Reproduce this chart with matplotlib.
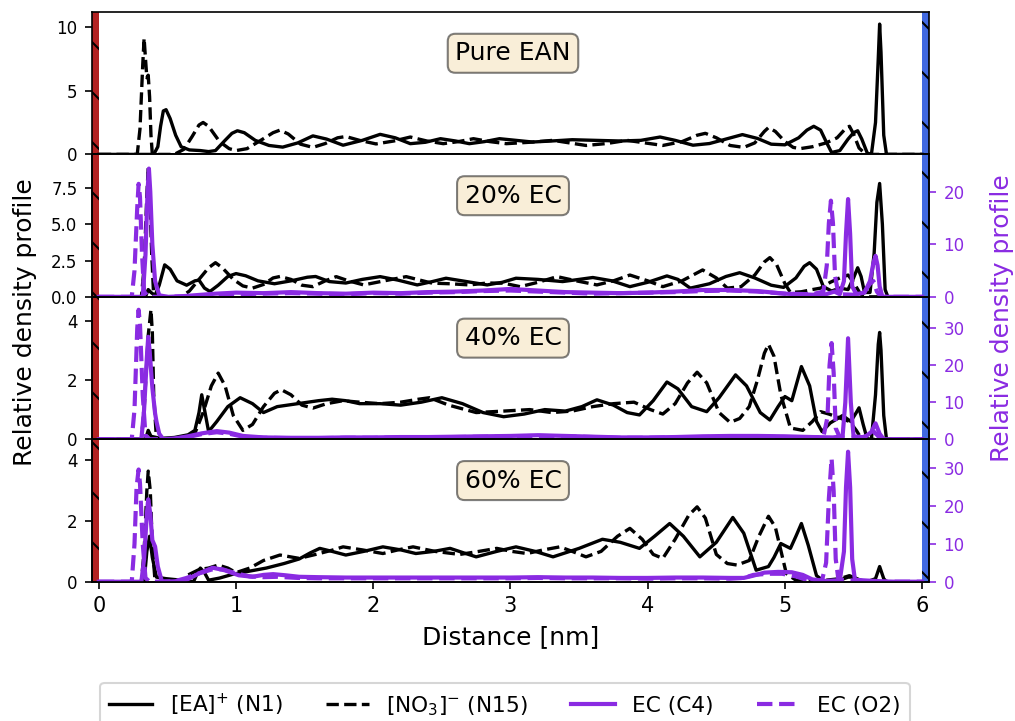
import numpy as np
import matplotlib
matplotlib.use("Agg")
import matplotlib.pyplot as plt

PURPLE = "#8a2be2"

panel_titles = ["Pure EAN", "20% EC", "40% EC", "60% EC"]
legend_labels = [r"[EA]$^{+}$ (N1)", r"[NO$_3$]$^{-}$ (N15)", "EC (C4)", "EC (O2)"]
x_ticks = [0, 1, 2, 3, 4, 5, 6]
left_ticks = [[0, 5, 10], [0.0, 2.5, 5.0, 7.5], [0, 2, 4], [0, 2, 4]]
right_ticks = [None, [0, 10, 20], [0, 10, 20, 30], [0, 10, 20, 30]]
left_ylim = [11.15, 9.8, 4.8, 4.7]
right_ylim = [None, 27.1, 38.5, 37.7]

# (distance nm, relative density)
ean_n1 = [(0, 0), (0.40, 0), (0.43, 0.6), (0.45, 2.2), (0.47, 3.4), (0.49, 3.5), (0.52, 2.8), (0.56, 1.5),
          (0.60, 0.6), (0.66, 0.35), (0.74, 0.3), (0.80, 0.22), (0.85, 0.3), (0.92, 1.1), (0.97, 1.65),
          (1.01, 1.85), (1.06, 1.7), (1.14, 1.1), (1.24, 0.7), (1.34, 0.57), (1.45, 0.9), (1.56, 1.45),
          (1.66, 1.2), (1.78, 0.72), (1.92, 1.1), (2.05, 1.57), (2.16, 1.3), (2.27, 0.84), (2.38, 0.95),
          (2.49, 1.23), (2.60, 1.05), (2.70, 0.84), (2.81, 1.0), (2.92, 1.23), (3.04, 1.1), (3.16, 0.97),
          (3.30, 1.05), (3.45, 1.15), (3.62, 1.1), (3.80, 1.05), (3.95, 1.1), (4.09, 1.36), (4.20, 1.1),
          (4.33, 0.72), (4.45, 0.85), (4.57, 1.2), (4.69, 1.55), (4.80, 1.25), (4.90, 0.8), (5.00, 0.75),
          (5.10, 1.3), (5.16, 1.9), (5.21, 2.2), (5.26, 1.9), (5.30, 1.0), (5.34, 0.15), (5.40, 0.3),
          (5.46, 1.2), (5.50, 1.7), (5.53, 1.85), (5.56, 1.2), (5.60, 0.1), (5.63, 0.0), (5.66, 2.5),
          (5.68, 7.5), (5.69, 10.2), (5.70, 8.0), (5.72, 1.5), (5.74, 0), (6.0, 0)]
ean_n15 = [(0, 0), (0.28, 0), (0.30, 2.0), (0.32, 7.0), (0.33, 9.1), (0.34, 7.5), (0.35, 6.0), (0.36, 6.2),
           (0.37, 4.5), (0.38, 1.5), (0.39, 0), (0.55, 0), (0.62, 0.4), (0.68, 1.4), (0.73, 2.3), (0.76, 2.5),
           (0.80, 2.2), (0.88, 1.0), (0.95, 0.45), (1.00, 0.3), (1.08, 0.45), (1.18, 1.1), (1.27, 1.7),
           (1.32, 1.9), (1.38, 1.6), (1.47, 0.8), (1.56, 0.55), (1.65, 0.85), (1.74, 1.3), (1.80, 1.4),
           (1.90, 1.1), (2.02, 0.82), (2.15, 1.05), (2.27, 1.36), (2.39, 1.05), (2.51, 0.84), (2.62, 1.0),
           (2.73, 1.23), (2.85, 1.0), (2.97, 0.84), (3.14, 0.95), (3.31, 1.1), (3.43, 0.9), (3.55, 0.7),
           (3.70, 0.85), (3.85, 1.1), (3.98, 0.9), (4.11, 0.7), (4.25, 1.0), (4.36, 1.5), (4.42, 1.65),
           (4.50, 1.3), (4.60, 0.7), (4.70, 0.55), (4.78, 0.9), (4.85, 1.8), (4.88, 2.1), (4.93, 1.8),
           (5.00, 1.0), (5.06, 0.55), (5.11, 0.45), (5.20, 0.6), (5.30, 0.9), (5.38, 1.3), (5.44, 2.0),
           (5.47, 2.2), (5.50, 1.6), (5.54, 0.5), (5.58, 0.1), (5.62, 0), (6.0, 0)]

ec20_n1 = [(0, 0), (0.34, 0), (0.36, 0.5), (0.38, 0.3), (0.41, 0.1), (0.44, 0.8), (0.48, 2.2), (0.52, 1.9),
           (0.57, 1.1), (0.64, 0.8), (0.70, 1.1), (0.73, 1.15), (0.77, 0.6), (0.81, 0.37), (0.87, 0.8),
           (0.94, 1.4), (1.00, 1.6), (1.07, 1.45), (1.16, 1.1), (1.28, 0.9), (1.40, 1.1), (1.52, 1.35),
           (1.58, 1.4), (1.68, 1.05), (1.80, 0.95), (1.92, 1.2), (2.05, 1.39), (2.18, 1.15), (2.32, 0.82),
           (2.43, 1.05), (2.53, 1.28), (2.68, 1.05), (2.83, 0.82), (2.94, 1.0), (3.04, 1.28), (3.20, 1.2),
           (3.38, 1.05), (3.50, 1.2), (3.60, 1.33), (3.74, 1.1), (3.87, 0.7), (4.00, 1.0), (4.14, 1.44),
           (4.22, 1.2), (4.31, 0.6), (4.45, 0.9), (4.57, 1.4), (4.67, 1.66), (4.78, 1.3), (4.90, 0.8),
           (4.99, 0.65), (5.08, 1.3), (5.14, 2.1), (5.18, 2.35), (5.23, 1.9), (5.28, 0.7), (5.34, 0.4),
           (5.40, 0.6), (5.46, 0.5), (5.50, 1.3), (5.53, 2.0), (5.555, 1.4), (5.58, 0.3), (5.62, 0.3),
           (5.65, 3.0), (5.67, 6.5), (5.69, 7.8), (5.71, 5.0), (5.73, 0.5), (5.75, 0), (6.0, 0)]
ec20_n15 = [(0, 0), (0.31, 0), (0.33, 2.0), (0.35, 7.0), (0.36, 8.9), (0.37, 7.5), (0.385, 3.0), (0.40, 0),
            (0.60, 0), (0.66, 0.4), (0.73, 1.2), (0.80, 2.0), (0.85, 2.35), (0.90, 2.0), (0.98, 1.2),
            (1.05, 0.75), (1.12, 0.6), (1.20, 0.85), (1.27, 1.3), (1.32, 1.4), (1.40, 1.2), (1.48, 0.8),
            (1.56, 0.7), (1.65, 1.1), (1.73, 1.39), (1.82, 1.1), (1.93, 0.82), (2.08, 1.1), (2.24, 1.39),
            (2.34, 1.15), (2.43, 0.94), (2.56, 0.9), (2.70, 0.82), (2.83, 0.95), (2.95, 0.94), (3.07, 0.7),
            (3.20, 1.0), (3.34, 1.39), (3.48, 1.1), (3.63, 0.82), (3.75, 1.1), (3.87, 1.5), (4.00, 1.1),
            (4.11, 0.7), (4.25, 1.1), (4.40, 1.85), (4.50, 1.3), (4.58, 0.6), (4.68, 0.7), (4.78, 1.5),
            (4.85, 2.4), (4.89, 2.7), (4.94, 2.2), (5.00, 0.9), (5.04, 0.3), (5.12, 0.35), (5.20, 0.5),
            (5.26, 0.6), (5.33, 1.0), (5.40, 1.3), (5.46, 1.5), (5.50, 1.0), (5.55, 0.2), (5.60, 0), (6.0, 0)]
ec20_c4 = [(0, 0), (0.32, 0), (0.34, 8), (0.355, 20), (0.365, 24.4), (0.375, 20), (0.39, 10), (0.41, 3),
           (0.44, 0.3), (0.50, 0), (0.60, 0.1), (0.70, 0.3), (0.85, 0.6), (1.00, 0.8), (1.20, 0.7), (1.40, 0.9),
           (1.60, 0.7), (1.80, 0.6), (2.00, 0.8), (2.20, 0.7), (2.40, 0.9), (2.60, 1.0), (2.80, 1.2), (3.00, 1.5),
           (3.20, 1.2), (3.40, 0.9), (3.60, 0.8), (3.80, 0.7), (4.00, 0.8), (4.20, 1.0), (4.40, 1.3), (4.60, 1.3),
           (4.80, 1.1), (5.00, 0.6), (5.20, 0.4), (5.30, 0.5), (5.36, 1.0), (5.40, 0.5), (5.43, 3), (5.445, 12),
           (5.46, 18.6), (5.475, 12), (5.49, 2), (5.52, 0.5), (5.58, 0.8), (5.62, 3), (5.645, 6.5), (5.66, 7.8),
           (5.675, 6), (5.69, 2), (5.71, 0), (6.0, 0)]
ec20_o2 = [(0, 0), (0.24, 0), (0.26, 5), (0.28, 17), (0.29, 21.5), (0.30, 19), (0.315, 8), (0.33, 1), (0.36, 0),
           (0.50, 0), (0.60, 0.1), (0.80, 0.3), (1.00, 0.5), (1.20, 0.6), (1.40, 0.7), (1.60, 0.6), (1.80, 0.5),
           (2.00, 0.7), (2.20, 0.6), (2.40, 0.8), (2.60, 0.9), (2.80, 1.1), (3.00, 1.2), (3.20, 1.0), (3.40, 0.8),
           (3.60, 0.6), (3.80, 0.7), (4.00, 0.8), (4.20, 0.9), (4.40, 1.1), (4.60, 1.2), (4.80, 1.0), (5.00, 0.6),
           (5.20, 0.5), (5.28, 1.0), (5.305, 6), (5.32, 14), (5.335, 18.3), (5.35, 14), (5.365, 4), (5.39, 0.5),
           (5.50, 0.4), (5.58, 1.0), (5.62, 2.5), (5.645, 3.0), (5.67, 1.0), (5.70, 0), (6.0, 0)]

ec40_n1 = [(0, 0), (0.34, 0), (0.36, 0.3), (0.38, 0.1), (0.45, 0.03), (0.55, 0.06), (0.65, 0.15), (0.70, 0.3),
           (0.73, 0.9), (0.75, 1.5), (0.77, 1.0), (0.80, 0.26), (0.86, 0.6), (0.94, 1.1), (1.03, 1.4), (1.12, 1.2),
           (1.20, 0.9), (1.30, 1.1), (1.45, 1.2), (1.60, 1.3), (1.70, 1.35), (1.80, 1.3), (1.90, 1.2), (2.05, 1.2),
           (2.20, 1.15), (2.35, 1.25), (2.50, 1.4), (2.65, 1.2), (2.80, 0.9), (2.95, 0.76), (3.10, 0.85),
           (3.25, 1.0), (3.40, 0.95), (3.52, 1.1), (3.63, 1.33), (3.75, 1.15), (3.85, 0.9), (3.94, 0.82),
           (4.04, 1.3), (4.14, 1.93), (4.22, 1.7), (4.32, 1.1), (4.43, 0.93), (4.52, 1.4), (4.64, 2.17),
           (4.72, 1.8), (4.82, 0.9), (4.89, 0.65), (4.95, 1.1), (5.00, 1.44), (5.05, 1.3), (5.12, 2.45),
           (5.18, 1.8), (5.23, 0.6), (5.27, 0.26), (5.33, 0.55), (5.42, 0.8), (5.48, 0.6), (5.52, 0.9),
           (5.54, 1.06), (5.57, 0.5), (5.60, 0), (5.63, 0), (5.66, 1.5), (5.68, 3.2), (5.69, 3.6), (5.70, 3.0),
           (5.72, 0.8), (5.74, 0), (6.0, 0)]
ec40_n15 = [(0, 0), (0.31, 0), (0.33, 1.0), (0.36, 3.5), (0.38, 4.37), (0.39, 3.6), (0.40, 1.5), (0.42, 0),
            (0.65, 0), (0.70, 0.2), (0.76, 0.9), (0.82, 1.8), (0.87, 2.23), (0.92, 1.8), (0.98, 0.8), (1.05, 0.3),
            (1.12, 0.5), (1.20, 1.1), (1.28, 1.55), (1.33, 1.67), (1.40, 1.5), (1.48, 1.15), (1.56, 1.05),
            (1.66, 1.2), (1.78, 1.3), (1.90, 1.25), (2.05, 1.2), (2.20, 1.25), (2.33, 1.35), (2.41, 1.4),
            (2.55, 1.15), (2.75, 0.9), (2.95, 0.95), (3.14, 1.0), (3.30, 0.9), (3.45, 0.95), (3.60, 1.1),
            (3.75, 1.2), (3.90, 1.25), (4.02, 1.0), (4.11, 0.85), (4.20, 1.2), (4.29, 1.9), (4.36, 2.26),
            (4.43, 1.9), (4.52, 0.9), (4.60, 0.57), (4.67, 0.7), (4.74, 1.1), (4.80, 2.0), (4.85, 2.9),
            (4.88, 3.2), (4.92, 2.8), (4.97, 1.5), (5.04, 0.38), (5.13, 0.3), (5.20, 0.6), (5.26, 0.93),
            (5.32, 0.85), (5.38, 0.75), (5.47, 0.6), (5.52, 0.3), (5.56, 0), (6.0, 0)]
ec40_c4 = [(0, 0), (0.31, 0), (0.33, 8), (0.35, 22), (0.36, 27.7), (0.37, 24), (0.39, 14), (0.41, 7), (0.42, 4.8),
           (0.44, 1.5), (0.47, 0), (0.55, 0.2), (0.65, 0.8), (0.75, 1.6), (0.86, 2.2), (0.95, 1.8), (1.05, 0.9),
           (1.20, 0.5), (1.40, 0.4), (1.60, 0.4), (1.80, 0.5), (2.00, 0.5), (2.20, 0.6), (2.40, 0.6), (2.60, 0.7),
           (2.80, 0.8), (3.00, 0.9), (3.20, 1.1), (3.40, 0.9), (3.60, 0.7), (3.80, 0.5), (4.00, 0.5), (4.20, 0.6),
           (4.40, 0.8), (4.60, 0.9), (4.80, 0.9), (5.00, 0.8), (5.20, 0.6), (5.35, 0.5), (5.42, 0.8), (5.44, 10),
           (5.46, 27.3), (5.48, 10), (5.50, 0.8), (5.58, 0.5), (5.63, 2), (5.66, 4.3), (5.69, 1.5), (5.72, 0),
           (6.0, 0)]
ec40_o2 = [(0, 0), (0.24, 0), (0.26, 8), (0.28, 30), (0.29, 35), (0.30, 31), (0.32, 12), (0.34, 1), (0.37, 0),
           (0.55, 0.1), (0.65, 0.6), (0.75, 1.4), (0.86, 1.9), (0.95, 1.5), (1.05, 0.7), (1.20, 0.4), (1.40, 0.3),
           (1.60, 0.3), (1.80, 0.4), (2.00, 0.4), (2.20, 0.5), (2.40, 0.5), (2.60, 0.6), (2.80, 0.7), (3.00, 0.8),
           (3.20, 0.9), (3.40, 0.8), (3.60, 0.6), (3.80, 0.4), (4.00, 0.4), (4.20, 0.5), (4.40, 0.6), (4.60, 0.7),
           (4.80, 0.7), (5.00, 0.6), (5.20, 0.5), (5.28, 0.6), (5.31, 6), (5.325, 20), (5.34, 26), (5.355, 18),
           (5.37, 3), (5.40, 0.5), (5.55, 0.4), (5.62, 1.2), (5.65, 2.0), (5.68, 0.8), (5.71, 0), (6.0, 0)]

ec60_n1 = [(0, 0), (0.33, 0), (0.35, 1.0), (0.37, 1.5), (0.39, 0.8), (0.42, 0.15), (0.49, 0.1), (0.60, 0.05),
           (0.69, 0.0), (0.72, 0.3), (0.74, 0.45), (0.77, 0.3), (0.80, 0.05), (0.88, 0.12), (0.98, 0.25),
           (1.10, 0.35), (1.22, 0.45), (1.35, 0.6), (1.46, 0.75), (1.54, 0.95), (1.61, 1.1), (1.70, 1.0),
           (1.80, 0.88), (1.93, 1.0), (2.07, 1.15), (2.20, 1.05), (2.31, 0.93), (2.44, 1.0), (2.56, 1.1),
           (2.66, 0.95), (2.75, 0.82), (2.90, 1.0), (3.04, 1.15), (3.18, 1.0), (3.31, 0.82), (3.50, 1.1),
           (3.67, 1.4), (3.80, 1.3), (3.94, 1.1), (4.05, 1.5), (4.16, 1.92), (4.26, 1.5), (4.38, 0.82),
           (4.50, 1.3), (4.62, 2.12), (4.70, 1.6), (4.79, 0.38), (4.88, 0.5), (4.92, 0.8), (4.97, 1.26),
           (5.04, 1.1), (5.08, 1.5), (5.12, 1.92), (5.17, 1.2), (5.23, 0.2), (5.28, 0.03), (5.40, 0.05),
           (5.46, 0.15), (5.50, 0.15), (5.55, 0.05), (5.60, 0), (5.66, 0.1), (5.69, 0.5), (5.72, 0.1),
           (5.74, 0), (6.0, 0)]
ec60_n15 = [(0, 0), (0.31, 0), (0.33, 1.0), (0.35, 3.0), (0.36, 3.65), (0.375, 3.0), (0.39, 1.2), (0.41, 0),
            (0.60, 0), (0.64, 0.2), (0.73, 0.4), (0.80, 0.45), (0.87, 0.55), (0.94, 0.45), (1.00, 0.3),
            (1.10, 0.45), (1.20, 0.7), (1.32, 0.88), (1.46, 0.77), (1.58, 0.9), (1.70, 1.04), (1.78, 1.15),
            (1.92, 1.05), (2.07, 0.93), (2.18, 1.05), (2.29, 1.15), (2.45, 1.0), (2.63, 0.9), (2.77, 1.0),
            (2.90, 1.1), (3.01, 1.0), (3.12, 0.93), (3.24, 1.05), (3.36, 1.15), (3.45, 1.0), (3.55, 0.82),
            (3.66, 1.0), (3.78, 1.5), (3.87, 1.76), (3.96, 1.4), (4.04, 0.9), (4.11, 0.77), (4.20, 1.4),
            (4.30, 2.2), (4.36, 2.47), (4.42, 2.1), (4.50, 0.9), (4.58, 0.6), (4.65, 0.55), (4.74, 0.7),
            (4.81, 1.5), (4.88, 2.16), (4.93, 1.8), (5.01, 0.27), (5.08, 0.05), (5.30, 0.05), (5.40, 0.1),
            (5.47, 0.2), (5.52, 0.1), (5.57, 0), (6.0, 0)]
ec60_c4 = [(0, 0), (0.31, 0), (0.33, 6), (0.35, 18), (0.36, 21.8), (0.375, 18), (0.39, 11), (0.41, 9.3),
           (0.43, 4), (0.46, 0), (0.55, 0.1), (0.64, 0.5), (0.73, 2.2), (0.83, 3.7), (0.92, 3.0), (1.02, 1.7),
           (1.12, 1.3), (1.20, 1.8), (1.27, 2.0), (1.36, 1.7), (1.46, 1.3), (1.60, 1.2), (1.80, 1.1), (2.00, 1.1),
           (2.20, 1.1), (2.40, 1.1), (2.60, 1.1), (2.80, 1.1), (3.00, 1.1), (3.20, 1.2), (3.40, 1.1), (3.60, 1.1),
           (3.80, 1.0), (4.00, 1.0), (4.20, 1.1), (4.40, 1.1), (4.60, 1.0), (4.70, 1.0), (4.77, 1.6), (4.85, 2.4),
           (4.95, 2.6), (5.05, 2.5), (5.13, 1.8), (5.20, 0.6), (5.30, 0.2), (5.40, 0.4), (5.43, 8), (5.445, 25),
           (5.46, 34.4), (5.475, 25), (5.49, 6), (5.51, 0.5), (5.60, 0.3), (5.70, 0.1), (5.80, 0), (6.0, 0)]
ec60_o2 = [(0, 0), (0.24, 0), (0.26, 10), (0.275, 25), (0.29, 29.7), (0.30, 26), (0.32, 10), (0.34, 1),
           (0.37, 0), (0.55, 0.1), (0.64, 1.0), (0.73, 2.2), (0.82, 3.2), (0.90, 3.3), (1.00, 2.2), (1.10, 1.4),
           (1.20, 1.2), (1.30, 1.3), (1.45, 1.0), (1.60, 0.9), (1.80, 0.9), (2.00, 0.9), (2.20, 0.9), (2.40, 0.9),
           (2.60, 0.9), (2.80, 0.9), (3.00, 0.9), (3.20, 1.0), (3.40, 0.9), (3.60, 0.9), (3.80, 0.9), (4.00, 0.8),
           (4.20, 0.9), (4.40, 0.9), (4.60, 0.8), (4.70, 1.0), (4.77, 1.8), (4.88, 2.1), (4.98, 2.1), (5.08, 1.4),
           (5.13, 0.8), (5.20, 0.3), (5.27, 0.3), (5.30, 5), (5.32, 22), (5.34, 32.6), (5.355, 24), (5.37, 6),
           (5.39, 0.5), (5.50, 0.3), (5.60, 0.1), (5.70, 0), (6.0, 0)]

ion_data = [(ean_n1, ean_n15), (ec20_n1, ec20_n15), (ec40_n1, ec40_n15), (ec60_n1, ec60_n15)]
ec_data = [None, (ec20_c4, ec20_o2), (ec40_c4, ec40_o2), (ec60_c4, ec60_o2)]


def xy(points):
    arr = np.array(points, dtype=float)
    return arr[:, 0], arr[:, 1]


fig, axes = plt.subplots(4, 1, sharex=True, figsize=(1015 / 150, 721 / 150), dpi=150)
fig.subplots_adjust(left=0.0906, right=0.9153, top=0.9834, bottom=0.1932, hspace=0)

handles = []
for i, ax in enumerate(axes):
    n1, n15 = ion_data[i]
    l1, = ax.plot(*xy(n1), color="black", lw=1.6, ls="-")
    l2, = ax.plot(*xy(n15), color="black", lw=1.6, ls="--")

    # electrode walls
    ax.axvspan(-0.05, 0.0, facecolor="firebrick", edgecolor="black", hatch="\\", lw=0, zorder=0)
    ax.axvspan(6.0, 6.05, facecolor="royalblue", edgecolor="black", hatch="\\", lw=0, zorder=0)

    ax.set_xlim(-0.05, 6.05)
    ax.set_ylim(0, left_ylim[i])
    ax.set_yticks(left_ticks[i])
    ax.tick_params(axis="y", labelsize=8)
    if i < 3:
        ax.tick_params(axis="x", bottom=False)
    ax.text(0.503, 0.71, panel_titles[i], transform=ax.transAxes, fontsize=12,
            ha="center", va="center",
            bbox=dict(boxstyle="round", facecolor="wheat", alpha=0.5))

    if ec_data[i] is not None:
        tw = ax.twinx()
        c4, o2 = ec_data[i]
        l3, = tw.plot(*xy(c4), color=PURPLE, lw=2.0, ls="-")
        l4, = tw.plot(*xy(o2), color=PURPLE, lw=2.0, ls="--")
        tw.set_ylim(0, right_ylim[i])
        tw.set_yticks(right_ticks[i])
        tw.tick_params(axis="y", colors=PURPLE, labelsize=8)
        if i == 1:
            handles = [l1, l2, l3, l4]

axes[-1].set_xticks(x_ticks)
axes[-1].tick_params(axis="x", labelsize=10)
axes[-1].set_xlabel("Distance [nm]", fontsize=12)

fig.text(0.0246, 0.553, "Relative density profile", rotation=90, fontsize=12,
         ha="center", va="center")
fig.text(0.987, 0.559, "Relative density profile", rotation=90, fontsize=12,
         ha="center", va="center", color=PURPLE)

fig.legend(handles, legend_labels, loc="upper center", bbox_to_anchor=(0.4975, 0.0527),
           borderaxespad=0, ncol=4, fontsize=10.4)

fig.savefig("out.png", dpi=150)
